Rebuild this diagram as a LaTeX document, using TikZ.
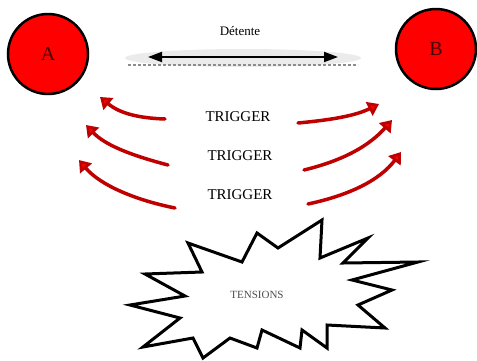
\documentclass[tikz,border=0pt]{standalone}
\usepackage{fontspec}
\setmainfont{Liberation Serif}
\usetikzlibrary{arrows.meta}
\begin{document}
\begin{tikzpicture}[x=1pt,y=-1pt,
  ball/.style={circle,draw=black,line width=2.5pt,fill=red,minimum size=80pt,inner sep=0pt,
    font=\fontsize{20}{20}\selectfont,text=black!75!red},
  trig/.style={font=\fontsize{15}{15}\selectfont,inner sep=1pt},
  redarr/.style={draw=red!75!black,line width=3.5pt,line cap=round,
    -{Triangle[length=11pt,width=15pt,fill=red]}},
  dbl/.style={line width=2pt,{Triangle[length=14pt,width=10pt]}-{Triangle[length=14pt,width=10pt]}},
  burst/.style={draw=black,line width=3pt,line join=miter,fill=white}
]
\useasboundingbox (0,0) rectangle (477,360);
% balls
\node[ball] (A) at (48,54) {A};
\node[ball] (B) at (436,49) {B};
% detente
\node[font=\fontsize{13}{13}\selectfont,inner sep=1pt] (det) at (240,31) {Détente};
\fill[black!8] (243,58) ellipse (118pt and 9pt);
\coordinate (el) at (128,65);
\coordinate (er) at (358,65);
\draw[black!45,line width=1.2pt,dash pattern=on 3pt off 2pt] (el) -- (er);
\coordinate (dl) at (148,57);
\coordinate (dr) at (338,57);
\draw[dbl] (dl) -- (dr);
% triggers
\node[trig] (t1) at (238,117) {TRIGGER};
\node[trig] (t2) at (240,156) {TRIGGER};
\node[trig] (t3) at (240,195) {TRIGGER};
% left arrows
\coordinate (l1s) at (165,119); \coordinate (l1e) at (100,97);
\coordinate (l2s) at (168,165); \coordinate (l2e) at (86,125);
\coordinate (l3s) at (175,208); \coordinate (l3e) at (79,160);
\draw[redarr] (l1s) .. controls (135,118) and (118,112) .. (l1e);
\draw[redarr] (l2s) .. controls (130,155) and (105,145) .. (l2e);
\draw[redarr] (l3s) .. controls (135,200) and (100,185) .. (l3e);
% right arrows
\coordinate (r1s) at (298,123); \coordinate (r1e) at (379,104);
\coordinate (r2s) at (304,170); \coordinate (r2e) at (392,120);
\coordinate (r3s) at (308,204); \coordinate (r3e) at (401,152);
\draw[redarr] (r1s) .. controls (330,120) and (355,116) .. (r1e);
\draw[redarr] (r2s) .. controls (345,160) and (370,145) .. (r2e);
\draw[redarr] (r3s) .. controls (350,195) and (380,180) .. (r3e);
% burst
\draw[burst] (188,243) -- (242,262) -- (257,233) -- (278,248) -- (322,220) -- (320,258)
  -- (368,238) -- (343,263) -- (418,262) -- (352,280) -- (392,290) -- (358,305)
  -- (385,328) -- (327,325) -- (327,348) -- (302,330) -- (300,348) -- (262,330)
  -- (257,348) -- (230,338) -- (203,358) -- (193,338) -- (143,347) -- (180,318)
  -- (130,305) -- (185,296) -- (145,274) -- (202,272) -- cycle;
\node[font=\fontsize{11}{11}\selectfont,text=black!70,inner sep=1pt] (ten) at (257,295) {TENSIONS};
\end{tikzpicture}
\end{document}
